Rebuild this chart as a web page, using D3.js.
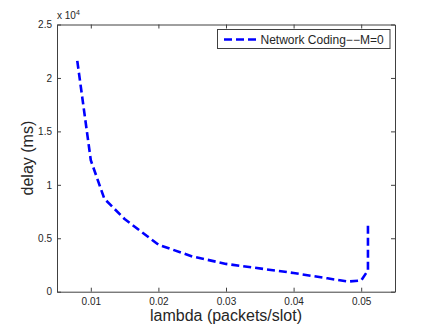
<!DOCTYPE html>
<html><head><meta charset="utf-8">
<script src="https://cdn.jsdelivr.net/npm/d3@7"></script>
<style>html,body{margin:0;padding:0;background:#fff;}svg{display:block;}text{font-family:"Liberation Sans",Arial,Helvetica,sans-serif;fill:#262626;}</style>
</head><body>
<script>
const lambdaVals = [0.008, 0.010, 0.012, 0.015, 0.020, 0.025, 0.030, 0.040, 0.045, 0.048, 0.050, 0.051, 0.051];
const delayVals  = [21600, 12300, 8700, 6800, 4400, 3300, 2600, 1750, 1250, 950, 1050, 2000, 6500];
const xTicks = [0.01, 0.02, 0.03, 0.04, 0.05];
const xTickLabels = ["0.01", "0.02", "0.03", "0.04", "0.05"];
const yTicks = [0, 5000, 10000, 15000, 20000, 25000];
const yTickLabels = ["0", "0.5", "1", "1.5", "2", "2.5"];
const seriesName = "Network Coding\u2212\u2212M=0";

const W = 436, H = 328;
const L = 57, R = 395, T = 24.5, B = 291.7;
const svg = d3.select("body").append("svg").attr("width", W).attr("height", H);
const x = d3.scaleLinear().domain([0.005, 0.055]).range([L, R]);
const y = d3.scaleLinear().domain([0, 25000]).range([B, T]);
const axisColor = "#404040";

const gx = svg.append("g").attr("transform", `translate(0,${B})`)
  .call(d3.axisBottom(x).tickValues(xTicks).tickFormat((d,i)=>xTickLabels[i]).tickSizeInner(-4).tickSizeOuter(0).tickPadding(6));
const gxt = svg.append("g").attr("transform", `translate(0,${T})`)
  .call(d3.axisTop(x).tickValues(xTicks).tickFormat("").tickSizeInner(-4).tickSizeOuter(0));
const gy = svg.append("g").attr("transform", `translate(${L},0)`)
  .call(d3.axisLeft(y).tickValues(yTicks).tickFormat((d,i)=>yTickLabels[i]).tickSizeInner(-4).tickSizeOuter(0).tickPadding(5));
const gyr = svg.append("g").attr("transform", `translate(${R},0)`)
  .call(d3.axisRight(y).tickValues(yTicks).tickFormat("").tickSizeInner(-4).tickSizeOuter(0));

[gx, gxt, gy, gyr].forEach(g => {
  g.selectAll(".domain").attr("stroke", axisColor).attr("stroke-width", 1);
  g.selectAll(".tick line").attr("stroke", axisColor).attr("stroke-width", 1);
  g.selectAll(".tick text").attr("font-size", 10).attr("fill", "#262626")
    .style("font-family", '"Liberation Sans",Arial,sans-serif');
});

const ex = svg.append("text").attr("x", L).attr("y", 19).attr("font-size", 10);
ex.append("tspan").text("x 10");
ex.append("tspan").attr("dy", -4).attr("font-size", 7).text("4");

const line = d3.line().x((d,i)=>x(lambdaVals[i])).y((d,i)=>y(delayVals[i]));
svg.append("path").datum(delayVals).attr("d", line)
  .attr("fill", "none").attr("stroke", "#0000ff").attr("stroke-width", 2.6)
  .attr("stroke-dasharray", "8,4").attr("stroke-linejoin", "round");

svg.append("text").attr("x", (L+R)/2).attr("y", 320.5).attr("text-anchor", "middle")
  .attr("font-size", 16).text("lambda (packets/slot)");
svg.append("text").attr("transform", `translate(33,${(T+B)/2}) rotate(-90)`)
  .attr("text-anchor", "middle").attr("font-size", 16).text("delay (ms)");

const lg = svg.append("g");
lg.append("rect").attr("x", 217.5).attr("y", 29.5).attr("width", 172.5).attr("height", 19)
  .attr("fill", "#fff").attr("stroke", axisColor).attr("stroke-width", 1);
lg.append("line").attr("x1", 224).attr("x2", 256).attr("y1", 39.5).attr("y2", 39.5)
  .attr("stroke", "#0000ff").attr("stroke-width", 2.6).attr("stroke-dasharray", "8,4");
lg.append("text").attr("x", 260.5).attr("y", 43.5).attr("font-size", 12).text(seriesName);
</script>
</body></html>
